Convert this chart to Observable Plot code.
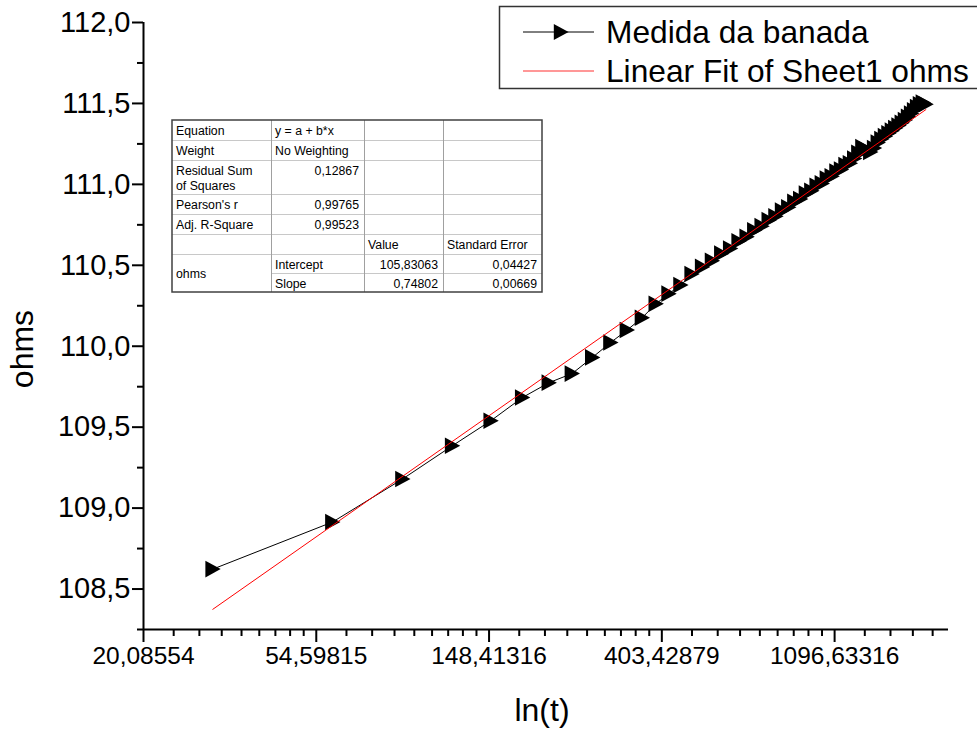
<!DOCTYPE html>
<html><head><meta charset="utf-8">
<script src="https://cdn.jsdelivr.net/npm/d3@7"></script>
<script src="https://cdn.jsdelivr.net/npm/@observablehq/plot@0.6"></script>
<style>
body{margin:0;background:#fff;}
#chart{position:relative;width:977px;height:731px;}
svg{font-family:"Liberation Sans",Arial,sans-serif;}
</style></head><body><div id="chart"></div>
<script>
// ---- data ----
const times = [30,60,90,120,150,180,210,240,270,300,330,360,390,420,450,480,510,540,570,600,
  630,660,690,720,750,780,810,840,870,900,930,960,990,1020,1050,1080,1110,1140,1170,1200,
  1230,1260,1290,1320,1350,1380,1410,1440,1470,1500,1530,1560,1590,1620,1650,1680,1710,1740,1770,1800,
  1830,1860];
const ohms = [108.623,108.914,109.180,109.385,109.540,109.683,109.775,109.831,109.931,110.023,
  110.100,110.176,110.262,110.325,110.378,110.446,110.490,110.528,110.572,110.604,
  110.648,110.676,110.716,110.742,110.779,110.803,110.838,110.858,110.892,110.910,
  110.944,110.960,110.991,111.006,111.036,111.050,111.079,111.092,111.119,111.130,
  111.160,111.195,111.230,111.215,111.200,111.225,111.258,111.280,111.298,111.316,
  111.332,111.348,111.364,111.380,111.398,111.418,111.438,111.458,111.478,111.495,
  111.505,111.495];
const fitIntercept = 105.83063;
const fitSlope = 0.74802;
const xMajorTicks = [20.08554, 54.59815, 148.41316, 403.42879, 1096.63316];
const xMajorLabels = ["20,08554","54,59815","148,41316","403,42879","1096,63316"];
const xDomain = [20.08554, 2120];
const yMajorTicks = [108.5,109.0,109.5,110.0,110.5,111.0,111.5,112.0];
const yMajorLabels = ["108,5","109,0","109,5","110,0","110,5","111,0","111,5","112,0"];
const yMinorTicks = [108.25,108.75,109.25,109.75,110.25,110.75,111.25,111.75];
const yDomain = [108.25, 112.0];
const xTitle = "ln(t)";
const yTitle = "ohms";
const legendLabels = ["Medida da banada", "Linear Fit of Sheet1 ohms"];
const tableRows = [
  ["Equation", "y = a + b*x", "", ""],
  ["Weight", "No Weighting", "", ""],
  ["Residual Sum|of Squares", "0,12867", "", ""],
  ["Pearson's r", "0,99765", "", ""],
  ["Adj. R-Square", "0,99523", "", ""],
  ["", "", "Value", "Standard Error"],
  ["ohms", "Intercept", "105,83063", "0,04427"],
  ["", "Slope", "0,74802", "0,00669"]
];

// ---- derived ----
const data = times.map((t, i) => ({t, v: ohms[i]}));
const fitData = [times[0], times[times.length - 1]].map(t => ({t, v: fitIntercept + fitSlope * Math.log(t)}));
const xMinorTicks = [];
for (let i = 0; i < xMajorTicks.length; i++) {
  const a = xMajorTicks[i], b = a * Math.E;
  for (let k = 1; k <= 8; k++) { const v = a + k * (b - a) / 9; if (v < xDomain[1]) xMinorTicks.push(v); }
}
const triRight = {
  draw(ctx, size) {
    const r = Math.sqrt(size / Math.PI);
    ctx.moveTo(0.95 * r, 0);
    ctx.lineTo(-0.9 * r, -r);
    ctx.lineTo(-0.9 * r, r);
    ctx.closePath();
  }
};

const chart = Plot.plot({
  width: 977, height: 731,
  marginLeft: 143, marginRight: 29, marginTop: 22, marginBottom: 102,
  style: {fontFamily: '"Liberation Sans", Arial, sans-serif', background: "white", color: "black", overflow: "visible"},
  x: {type: "log", domain: xDomain},
  y: {domain: yDomain},
  marks: [
    Plot.axisY(yMinorTicks, {tickSize: 6, tickFormat: () => "", strokeWidth: 2, label: null}),
    Plot.axisY(yMajorTicks, {tickSize: 11, tickPadding: 2, strokeWidth: 2, fontSize: 29, label: null,
      tickFormat: d => yMajorLabels[yMajorTicks.indexOf(d)]}),
    Plot.axisX(xMinorTicks, {tickSize: 7, tickFormat: () => "", strokeWidth: 2, label: null}),
    Plot.axisX(xMajorTicks, {tickSize: 13, tickPadding: 4, strokeWidth: 2, fontSize: 24.5, label: null,
      tickFormat: d => xMajorLabels[xMajorTicks.indexOf(d)]}),
    Plot.ruleY([yDomain[0]], {stroke: "black", strokeWidth: 2}),
    Plot.ruleX([xDomain[0]], {stroke: "black", strokeWidth: 2}),
    Plot.line(data, {x: "t", y: "v", stroke: "black", strokeWidth: 1}),
    Plot.dot(data, {x: "t", y: "v", symbol: triRight, r: 8.3, fill: "black", stroke: "none"}),
    Plot.line(fitData, {x: "t", y: "v", stroke: "#ff0000", strokeWidth: 1})
  ]
});
document.getElementById("chart").appendChild(chart);

// ---- titles, table & legend overlay ----
const svg = d3.select(chart);
svg.append("text").attr("transform", "translate(33,349) rotate(-90)").attr("text-anchor", "middle")
  .attr("font-size", 32).attr("fill", "black").text(yTitle);
svg.append("text").attr("x", 542).attr("y", 721).attr("text-anchor", "middle")
  .attr("font-size", 32).attr("fill", "black").text(xTitle);

const cols = [172, 271, 364, 443, 542];
const rows = [120, 140, 160, 194, 214, 234, 254, 273, 292];
const tg = svg.append("g").attr("font-size", 12.3).attr("fill", "black");
tg.append("rect").attr("x", cols[0]).attr("y", rows[0]).attr("width", cols[4] - cols[0]).attr("height", rows[8] - rows[0])
  .attr("fill", "white").attr("stroke", "none");
for (let r = 1; r < 8; r++) {
  const x0 = r === 7 ? cols[1] : cols[0];
  tg.append("line").attr("x1", x0).attr("x2", cols[4]).attr("y1", rows[r] + 0.5).attr("y2", rows[r] + 0.5)
    .attr("stroke", "#c8c8c8").attr("stroke-width", 1);
}
for (let c = 1; c < 4; c++) {
  tg.append("line").attr("x1", cols[c] + 0.5).attr("x2", cols[c] + 0.5).attr("y1", rows[0]).attr("y2", rows[8])
    .attr("stroke", "#a0a0a0").attr("stroke-width", 1);
}
tg.append("rect").attr("x", cols[0]).attr("y", rows[0]).attr("width", cols[4] - cols[0]).attr("height", rows[8] - rows[0])
  .attr("fill", "none").attr("stroke", "#404040").attr("stroke-width", 1.5);
const isNum = s => /^[\d,]+$/.test(s);
tableRows.forEach((row, r) => {
  row.forEach((txt, c) => {
    if (!txt) return;
    const lines = txt.split("|");
    let yTop = rows[r];
    if (r === 6 && c === 0) yTop = (rows[6] + rows[8]) / 2 - 10;
    const right = isNum(txt);
    const x = right ? cols[c + 1] - 5 : cols[c] + 4;
    lines.forEach((ln, li) => {
      tg.append("text").attr("x", x).attr("y", yTop + 14.5 + li * 15)
        .attr("text-anchor", right ? "end" : "start").text(ln);
    });
  });
});

const lg = svg.append("g");
lg.append("rect").attr("x", 499.5).attr("y", 6.5).attr("width", 540).attr("height", 82)
  .attr("fill", "white").attr("stroke", "#333").attr("stroke-width", 1.5);
const legY = [32, 71];
lg.append("line").attr("x1", 523).attr("x2", 594).attr("y1", legY[0]).attr("y2", legY[0]).attr("stroke", "black").attr("stroke-width", 1);
lg.append("path").attr("transform", `translate(561,${legY[0]})`).attr("d", d3.symbol(triRight, Math.PI * 64)()).attr("fill", "black");
lg.append("line").attr("x1", 523).attr("x2", 594).attr("y1", legY[1]).attr("y2", legY[1]).attr("stroke", "#ff3030").attr("stroke-width", 1.2);
legendLabels.forEach((t, i) => {
  lg.append("text").attr("x", 606).attr("y", legY[i] + 11).attr("font-size", 31.7)
    .attr("text-anchor", "start").attr("fill", "black").text(t);
});
</script>
</body></html>
